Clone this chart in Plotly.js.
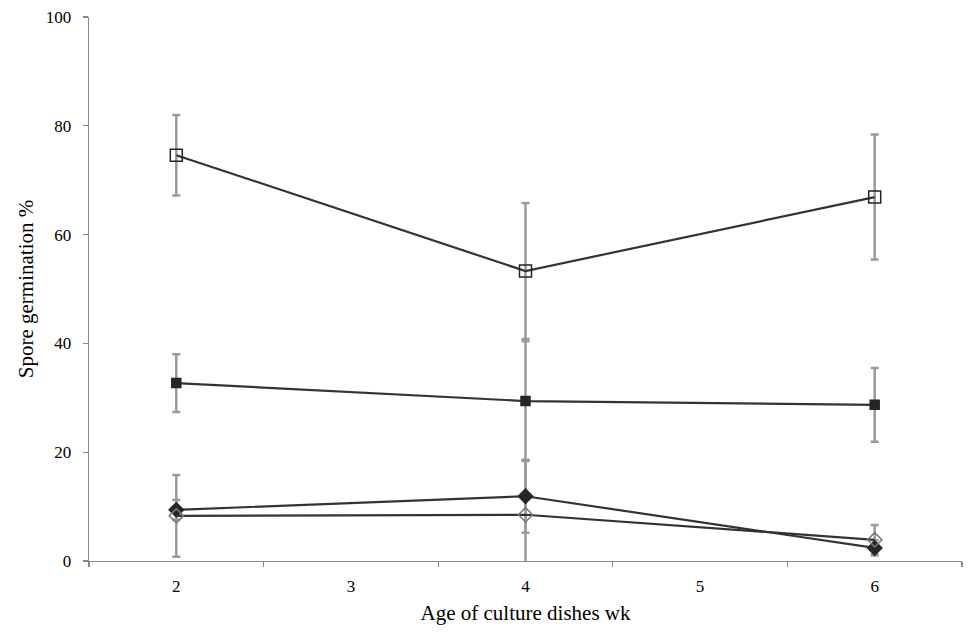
<!DOCTYPE html>
<html><head><meta charset="utf-8">
<script src="https://cdn.plot.ly/plotly-3.0.1.min.js"></script>
<style>body{margin:0}#c{width:977px;height:638px}</style>
</head><body><div id="c"></div>
<script>
const weeks = [2, 4, 6];
const openSquare = [74.6, 53.3, 66.9];
const openSquareErr = [7.4, 12.5, 11.5];
const filledSquare = [32.7, 29.4, 28.7];
const filledSquareErr = [5.3, 11.0, 6.8];
const filledDiamond = [9.4, 11.9, 2.4];
const filledDiamondErr = [1.8, 6.7, 1.4];
const openDiamond = [8.3, 8.5, 3.9];
const openDiamondErr = [7.5, 10.0, 2.7];
const xTickVals = [2, 3, 4, 5, 6];

const series = [
  {y: openSquare, e: openSquareErr, sym: 'square-open', size: 12, mc: '#222', lw: 1.5},
  {y: filledSquare, e: filledSquareErr, sym: 'square', size: 9, mc: '#262626', lw: 1.5},
  {y: filledDiamond, e: filledDiamondErr, sym: 'diamond', size: 11, mc: '#262626', lw: 1.5},
  {y: openDiamond, e: openDiamondErr, sym: 'diamond-open', size: 11, mc: '#777', lw: 1.5}
];
const traces = [];
series.forEach(s => traces.push({
  x: weeks, y: s.y, type: 'scatter', mode: 'markers', showlegend: false, hoverinfo: 'skip',
  marker: {size: 1, opacity: 0},
  error_y: {type: 'data', array: s.e, visible: true, color: '#9a9a9a', thickness: 2.5, width: 4}
}));
series.forEach(s => traces.push({
  x: weeks, y: s.y, type: 'scatter', mode: 'lines+markers', showlegend: false,
  line: {color: '#333333', width: 2.2},
  marker: {symbol: s.sym, size: s.size, color: s.mc, line: {color: s.mc, width: s.lw}}
}));

const layout = {
  width: 977, height: 638,
  margin: {l: 89, r: 15, t: 17, b: 77},
  paper_bgcolor: '#fff', plot_bgcolor: '#fff',
  font: {family: '"Liberation Serif", "Times New Roman", serif', color: '#000', size: 17},
  showlegend: false,
  xaxis: {
    range: [1.5, 6.5], tickvals: xTickVals, ticktext: xTickVals.map(String),
    ticks: '', showgrid: false, zeroline: false,
    showline: true, linecolor: '#888', linewidth: 1.3,
    ticklabelstandoff: 9,
    minor: {tickmode: 'linear', tick0: 1.5, dtick: 1, ticks: 'outside', ticklen: 5, tickcolor: '#888', tickwidth: 1.3, showgrid: false},
    title: {text: 'Age of culture dishes wk', font: {size: 21}, standoff: 10}
  },
  yaxis: {
    range: [0, 100], tickvals: [0, 20, 40, 60, 80, 100],
    ticks: 'outside', ticklen: 5, tickcolor: '#888', tickwidth: 1.3,
    showgrid: false, zeroline: false,
    showline: true, linecolor: '#888', linewidth: 1.3,
    ticklabelstandoff: 8,
    title: {text: 'Spore germination %', font: {size: 21}, standoff: 6}
  }
};
Plotly.newPlot('c', traces, layout, {displayModeBar: false, staticPlot: true});
</script></body></html>
